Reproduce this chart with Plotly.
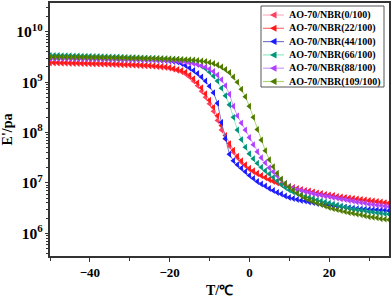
import plotly.graph_objects as go

temperature = list(range(-50, 36))

series_names = ["AO-70/NBR(0/100)", "AO-70/NBR(22/100)", "AO-70/NBR(44/100)",
                "AO-70/NBR(66/100)", "AO-70/NBR(88/100)", "AO-70/NBR(109/100)"]

E_0 = [2.40e9, 2.39e9, 2.38e9, 2.37e9, 2.36e9, 2.35e9, 2.34e9, 2.33e9, 2.32e9, 2.31e9,
       2.30e9, 2.29e9, 2.28e9, 2.27e9, 2.26e9, 2.25e9, 2.24e9, 2.22e9, 2.21e9, 2.19e9,
       2.18e9, 2.16e9, 2.14e9, 2.12e9, 2.10e9, 2.08e9, 2.05e9, 2.02e9, 1.98e9, 1.94e9,
       1.88e9, 1.79e9, 1.70e9, 1.60e9, 1.45e9, 1.26e9, 1.05e9, 8.51e8, 6.61e8, 5.01e8,
       3.72e8, 2.63e8, 1.74e8, 1.12e8, 7.41e7, 5.37e7, 4.07e7, 3.16e7, 2.57e7, 2.19e7,
       1.86e7, 1.66e7, 1.51e7, 1.38e7, 1.26e7, 1.15e7, 1.07e7, 1.00e7, 9.33e6, 8.91e6,
       8.32e6, 7.94e6, 7.59e6, 7.24e6, 6.92e6, 6.76e6, 6.46e6, 6.17e6, 6.03e6, 5.75e6,
       5.62e6, 5.50e6, 5.25e6, 5.13e6, 5.01e6, 4.90e6, 4.79e6, 4.68e6, 4.57e6, 4.47e6,
       4.37e6, 4.27e6, 4.17e6, 4.07e6, 3.98e6, 3.89e6]

E_22 = [2.46e9, 2.45e9, 2.44e9, 2.43e9, 2.42e9, 2.41e9, 2.40e9, 2.39e9, 2.38e9, 2.37e9,
        2.36e9, 2.35e9, 2.34e9, 2.33e9, 2.32e9, 2.31e9, 2.30e9, 2.28e9, 2.27e9, 2.25e9,
        2.24e9, 2.22e9, 2.20e9, 2.18e9, 2.16e9, 2.14e9, 2.11e9, 2.08e9, 2.05e9, 2.01e9,
        1.95e9, 1.86e9, 1.78e9, 1.70e9, 1.58e9, 1.38e9, 1.175e9, 9.77e8, 7.76e8, 5.89e8,
        4.37e8, 3.16e8, 2.14e8, 1.38e8, 8.71e7, 6.03e7, 4.47e7, 3.39e7, 2.75e7, 2.29e7,
        1.95e7, 1.74e7, 1.55e7, 1.41e7, 1.29e7, 1.175e7, 1.10e7, 1.02e7, 9.55e6, 9.12e6,
        8.51e6, 8.13e6, 7.76e6, 7.41e6, 7.08e6, 6.92e6, 6.61e6, 6.31e6, 6.17e6, 5.89e6,
        5.75e6, 5.62e6, 5.37e6, 5.25e6, 5.13e6, 5.01e6, 4.90e6, 4.79e6, 4.68e6, 4.57e6,
        4.47e6, 4.37e6, 4.27e6, 4.17e6, 4.07e6, 3.98e6]

E_44 = [3.16e9, 3.15e9, 3.14e9, 3.12e9, 3.11e9, 3.10e9, 3.08e9, 3.07e9, 3.06e9, 3.04e9,
        3.03e9, 3.01e9, 3.00e9, 2.98e9, 2.97e9, 2.95e9, 2.94e9, 2.92e9, 2.91e9, 2.89e9,
        2.88e9, 2.86e9, 2.84e9, 2.82e9, 2.80e9, 2.78e9, 2.76e9, 2.73e9, 2.70e9, 2.67e9,
        2.63e9, 2.57e9, 2.51e9, 2.34e9, 2.14e9, 1.91e9, 1.70e9, 1.48e9, 1.26e9, 1.05e9,
        8.32e8, 6.17e8, 3.80e8, 1.58e8, 7.59e7, 3.72e7, 2.75e7, 2.29e7, 1.95e7, 1.66e7,
        1.41e7, 1.23e7, 1.07e7, 9.55e6, 8.71e6, 7.76e6, 7.08e6, 6.46e6, 6.03e6, 5.50e6,
        5.13e6, 4.90e6, 4.68e6, 4.47e6, 4.37e6, 4.17e6, 4.07e6, 3.89e6, 3.80e6, 3.72e6,
        3.63e6, 3.55e6, 3.47e6, 3.39e6, 3.31e6, 3.24e6, 3.16e6, 3.09e6, 3.05e6, 3.02e6,
        2.98e6, 2.95e6, 2.92e6, 2.88e6, 2.86e6, 2.82e6]

E_66 = [3.39e9, 3.38e9, 3.37e9, 3.35e9, 3.34e9, 3.33e9, 3.31e9, 3.30e9, 3.28e9, 3.27e9,
        3.25e9, 3.24e9, 3.22e9, 3.21e9, 3.19e9, 3.17e9, 3.16e9, 3.14e9, 3.12e9, 3.10e9,
        3.09e9, 3.07e9, 3.05e9, 3.03e9, 3.01e9, 2.99e9, 2.97e9, 2.95e9, 2.93e9, 2.90e9,
        2.88e9, 2.85e9, 2.82e9, 2.75e9, 2.69e9, 2.57e9, 2.45e9, 2.29e9, 2.09e9, 1.86e9,
        1.58e9, 1.32e9, 1.05e9, 7.59e8, 5.37e8, 3.55e8, 2.00e8, 1.12e8, 7.24e7, 5.13e7,
        3.80e7, 3.02e7, 2.45e7, 2.04e7, 1.74e7, 1.51e7, 1.29e7, 1.10e7, 9.33e6, 8.13e6,
        7.24e6, 6.61e6, 6.17e6, 5.75e6, 5.37e6, 5.13e6, 4.90e6, 4.57e6, 4.37e6, 4.17e6,
        3.98e6, 3.80e6, 3.63e6, 3.47e6, 3.31e6, 3.16e6, 3.02e6, 2.95e6, 2.88e6, 2.82e6,
        2.69e6, 2.63e6, 2.57e6, 2.51e6, 2.45e6, 2.40e6]

E_88 = [2.95e9, 2.95e9, 2.94e9, 2.94e9, 2.93e9, 2.93e9, 2.92e9, 2.91e9, 2.91e9, 2.90e9,
        2.89e9, 2.89e9, 2.88e9, 2.87e9, 2.86e9, 2.85e9, 2.84e9, 2.83e9, 2.82e9, 2.81e9,
        2.80e9, 2.79e9, 2.78e9, 2.77e9, 2.76e9, 2.75e9, 2.73e9, 2.72e9, 2.71e9, 2.70e9,
        2.69e9, 2.66e9, 2.63e9, 2.57e9, 2.51e9, 2.40e9, 2.34e9, 2.24e9, 2.14e9, 2.00e9,
        1.82e9, 1.62e9, 1.38e9, 1.12e9, 8.51e8, 5.75e8, 3.31e8, 2.14e8, 1.55e8, 1.12e8,
        7.94e7, 5.75e7, 4.17e7, 3.16e7, 2.51e7, 2.00e7, 1.66e7, 1.38e7, 1.15e7, 9.77e6,
        8.51e6, 7.94e6, 7.41e6, 7.08e6, 6.76e6, 6.46e6, 6.17e6, 5.89e6, 5.75e6, 5.50e6,
        5.37e6, 5.13e6, 5.01e6, 4.79e6, 4.68e6, 4.47e6, 4.37e6, 4.17e6, 4.07e6, 3.98e6,
        3.80e6, 3.72e6, 3.63e6, 3.55e6, 3.47e6, 3.39e6]

E_109 = [3.16e9, 3.15e9, 3.15e9, 3.14e9, 3.13e9, 3.13e9, 3.12e9, 3.11e9, 3.10e9, 3.10e9,
         3.09e9, 3.08e9, 3.07e9, 3.06e9, 3.05e9, 3.04e9, 3.03e9, 3.02e9, 3.01e9, 3.00e9,
         2.99e9, 2.98e9, 2.97e9, 2.96e9, 2.95e9, 2.94e9, 2.93e9, 2.91e9, 2.90e9, 2.89e9,
         2.88e9, 2.86e9, 2.84e9, 2.82e9, 2.80e9, 2.77e9, 2.74e9, 2.70e9, 2.63e9, 2.57e9,
         2.45e9, 2.34e9, 2.19e9, 2.00e9, 1.78e9, 1.55e9, 1.26e9, 1.00e9, 7.24e8, 5.13e8,
         3.31e8, 2.00e8, 1.15e8, 7.08e7, 4.37e7, 2.88e7, 2.09e7, 1.55e7, 1.20e7, 9.77e6,
         8.32e6, 7.24e6, 6.31e6, 5.62e6, 5.01e6, 4.57e6, 4.27e6, 3.98e6, 3.72e6, 3.47e6,
         3.24e6, 3.09e6, 2.95e6, 2.82e6, 2.69e6, 2.57e6, 2.51e6, 2.40e6, 2.34e6, 2.24e6,
         2.14e6, 2.09e6, 2.04e6, 1.95e6, 1.91e6, 1.86e6]

series_values = [E_0, E_22, E_44, E_66, E_88, E_109]
marker_colors = ["#FF4060", "#FF1A1A", "#1A1AFF", "#00957A", "#B040FF", "#4F7A00"]
line_colors = ["#FFB0C4", "#FF7070", "#7A7AC8", "#8EEBC0", "#D09CFF", "#A8D870"]

FONT = "Liberation Serif, Times New Roman, serif"

# plot-area geometry (pixels)
W, H = 392, 299
ML, MR, MT, MB = 50, 3, 3, 43
PW, PH = W - ML - MR, H - MT - MB


def px_x(px):
    return (px - ML) / PW


def px_y(py):
    return (H - MB - py) / PH


fig = go.Figure()
for name, vals, mc, lc in zip(series_names, series_values, marker_colors, line_colors):
    fig.add_trace(go.Scatter(
        x=temperature, y=vals, name=name, mode="lines+markers",
        line=dict(color=lc, width=1),
        marker=dict(symbol="triangle-left", size=6, color=mc, line=dict(width=0)),
        showlegend=False,
    ))

axis_common = dict(
    showgrid=False, zeroline=False, showline=True, linecolor="#333333", linewidth=1.5,
    mirror=True, ticks="outside", tickcolor="#333333", tickwidth=1,
    automargin=False,
)

fig.update_xaxes(
    range=[-50, 35], dtick=20, tick0=0, ticklen=4,
    tickfont=dict(family=FONT, size=13, color="black", weight="bold"),
    minor=dict(ticks="outside", dtick=10, tick0=0, ticklen=3, tickcolor="#333333"),
    title=dict(text="T/℃", font=dict(family=FONT, size=14, color="black", weight="bold"),
               standoff=6),
    **axis_common,
)
fig.update_yaxes(
    type="log", range=[5.55, 10.57], dtick=1, exponentformat="power", showexponent="all",
    ticklen=3,
    tickfont=dict(family=FONT, size=12.5, color="black", weight="bold"),
    minor=dict(ticks="outside", ticklen=2, tickcolor="#333333"),
    title=dict(text="E'/pa", font=dict(family=FONT, size=14, color="black", weight="bold"),
               standoff=6),
    **axis_common,
)

# compact legend drawn as shapes + annotations
shapes = [dict(type="rect", xref="paper", yref="paper",
               x0=px_x(261), x1=px_x(384), y0=px_y(87), y1=px_y(6),
               line=dict(color="#555555", width=1), fillcolor="white", layer="above")]
annotations = []
row_y = [15, 28.3, 41.6, 54.9, 68.2, 81.5]
for name, mc, lc, ry in zip(series_names, marker_colors, line_colors, row_y):
    shapes.append(dict(type="line", xref="paper", yref="paper",
                       x0=px_x(263), x1=px_x(284), y0=px_y(ry), y1=px_y(ry),
                       line=dict(color=lc, width=1.2), layer="above"))
    path = "M {} {} L {} {} L {} {} Z".format(
        px_x(270), px_y(ry), px_x(276.5), px_y(ry - 3.5), px_x(276.5), px_y(ry + 3.5))
    shapes.append(dict(type="path", xref="paper", yref="paper", path=path,
                       fillcolor=mc, line=dict(width=0), layer="above"))
    annotations.append(dict(xref="paper", yref="paper", x=px_x(287), y=px_y(ry),
                            xanchor="left", yanchor="middle", showarrow=False,
                            text=name,
                            font=dict(family=FONT, size=10, color="black", weight="bold")))

fig.update_layout(
    width=W, height=H,
    margin=dict(l=ML, r=MR, t=MT, b=MB),
    paper_bgcolor="white", plot_bgcolor="white",
    showlegend=False,
    shapes=shapes, annotations=annotations,
)

fig.write_html("out.html",
               config={"displayModeBar": False},
               post_script="document.body.style.margin='0';document.body.style.padding='0';")
